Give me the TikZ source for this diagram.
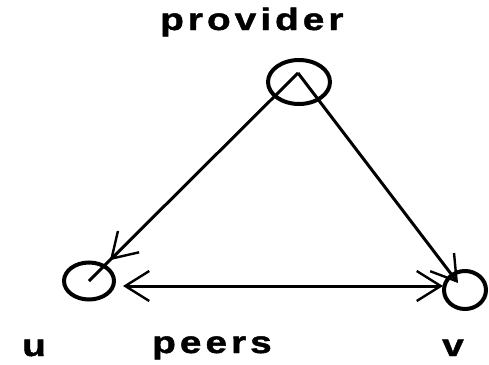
\documentclass[tikz,border=0pt]{standalone}
\usepackage{fontspec}
\setmainfont{Liberation Sans}
\usetikzlibrary{arrows.meta,decorations.markings,shapes.geometric}
\begin{document}
\begin{tikzpicture}[x=1pt,y=-1pt,
  circ/.style={draw,ellipse,line width=4pt,inner sep=0pt},
  conn/.style={line width=3pt},
  barb/.tip={Straight Barb[length=24pt,width=30pt,line width=2.4pt]},
  lbl/.style={font=\fontsize{31}{31}\selectfont\bfseries\addfontfeature{LetterSpace=13,FakeStretch=1.25,FakeBold=1.5},anchor=base west,inner sep=0pt}]
\useasboundingbox (0,0) rectangle (489,364);
\node[circ,minimum width=62pt,minimum height=44pt] (prov) at (299,82) {};
\node[circ,minimum width=50pt,minimum height=37pt] (u) at (89,281) {};
\node[circ,minimum width=42pt,minimum height=38pt] (v) at (465,290) {};
\coordinate (apex) at (298,73);
\coordinate (vtip) at (458,283);
\coordinate (ua) at (123,286);
\coordinate (va) at (443,286);
\draw[conn,postaction={decorate},decoration={markings,mark=at position 0.9 with {\arrow{barb}}}] (apex) -- (u.center);
\draw[conn,-barb] (apex) -- (vtip);
\draw[conn,barb-barb] (ua) -- (va);
\node[lbl] (tprov) at (160,30) {provider};
\node[lbl] (tpeers) at (152,353) {peers};
\node[lbl] (tu) at (22,356) {u};
\node[lbl] (tv) at (442,356) {v};
\end{tikzpicture}
\end{document}
